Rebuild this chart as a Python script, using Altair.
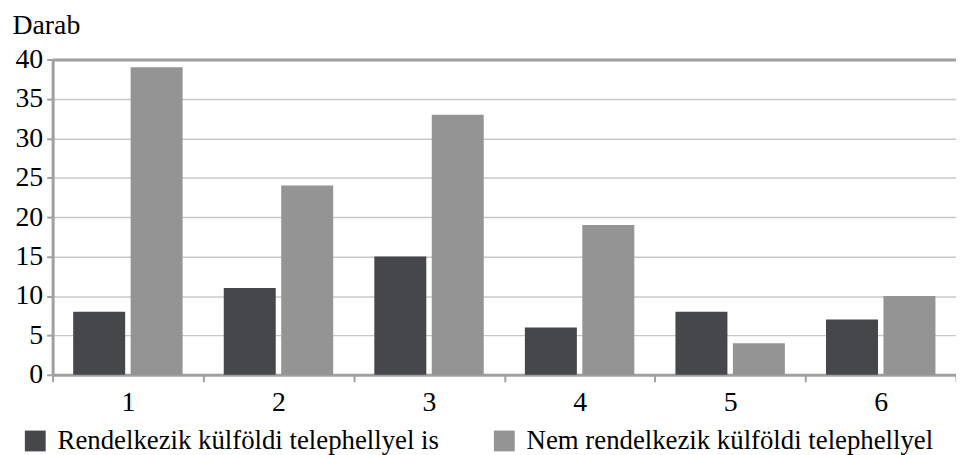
import altair as alt
import pandas as pd

categories = ["1", "2", "3", "4", "5", "6"]
series_names = ["Rendelkezik külföldi telephellyel is", "Nem rendelkezik külföldi telephellyel"]
dark_values = [8, 11, 15, 6, 8, 7]
light_values = [39, 24, 33, 19, 4, 10]
colors = ["#46474a", "#949494"]
y_ticks = [0, 5, 10, 15, 20, 25, 30, 35, 40]

rows = []
for c, v in zip(categories, dark_values):
    rows.append({"cat": c, "series": series_names[0], "value": v})
for c, v in zip(categories, light_values):
    rows.append({"cat": c, "series": series_names[1], "value": v})
df = pd.DataFrame(rows)

FONT = "Liberation Serif"
FS = 28

chart = alt.Chart(df).mark_bar().encode(
    x=alt.X("cat:N", sort=categories,
            scale=alt.Scale(paddingInner=0, paddingOuter=0),
            axis=alt.Axis(title=None, labelAngle=0, tickBand="extent", grid=False,
                          domainColor="#a0a0a0", domainWidth=3,
                          tickColor="#a0a0a0", tickWidth=2, tickSize=7,
                          labelPadding=7, labelFontSize=FS, labelFont=FONT,
                          labelColor="#000000")),
    xOffset=alt.XOffset("series:N", sort=series_names,
                        scale=alt.Scale(paddingInner=0.095, paddingOuter=0.358)),
    y=alt.Y("value:Q", scale=alt.Scale(domain=[0, 40], nice=False),
            axis=alt.Axis(title="Darab", values=y_ticks, titleAngle=0,
                          titleAlign="left", titleBaseline="alphabetic",
                          titleX=-41, titleY=-26, titleFont=FONT,
                          titleFontSize=FS, titleFontWeight="normal",
                          titleColor="#000000",
                          labelFont=FONT, labelFontSize=FS, labelColor="#000000",
                          labelPadding=4,
                          domainColor="#a0a0a0", domainWidth=3,
                          tickColor="#a0a0a0", tickWidth=2, tickSize=6,
                          gridColor={"condition": {"test": "datum.value === 40", "value": "#a0a0a0"}, "value": "#c8c8c8"},
                          gridWidth={"condition": {"test": "datum.value === 40", "value": 3}, "value": 1.5})),
    color=alt.Color("series:N", sort=series_names,
                    scale=alt.Scale(domain=series_names, range=colors),
                    legend=alt.Legend(title=None, orient="none", legendX=-31, legendY=371,
                                      direction="horizontal", symbolType="square",
                                      symbolSize=441, symbolStrokeWidth=0,
                                      labelFont=FONT, labelFontSize=27,
                                      labelColor="#000000", labelOffset=9,
                                      columnPadding=52, labelLimit=1000)),
).properties(
    width=911, height=318,
    autosize=alt.AutoSizeParams(type="none"),
    padding={"left": 45, "top": 50, "right": 0, "bottom": 79},
).configure_view(stroke=None).configure(font=FONT)

chart.save("out.html", embed_options={"renderer": "svg", "actions": False})
